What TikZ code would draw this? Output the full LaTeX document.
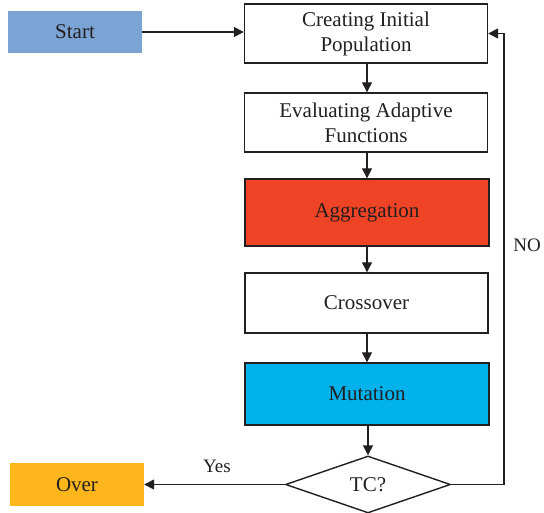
\documentclass[tikz,border=0pt]{standalone}
\usepackage{fontspec}
\setmainfont{Liberation Serif}
\usetikzlibrary{arrows.meta,shapes.geometric}
\definecolor{lineC}{HTML}{231F20}
\definecolor{startC}{HTML}{7BA4D5}
\definecolor{aggC}{HTML}{EE4324}
\definecolor{mutC}{HTML}{00B2EB}
\definecolor{overC}{HTML}{FDB61C}
\tikzset{
  box/.style={draw=lineC, line width=1.4pt, minimum width=243pt, minimum height=59pt, inner sep=0pt, align=center, font=\fontsize{21}{25}\selectfont, text=lineC},
  term/.style={minimum width=134pt, minimum height=42pt, inner sep=0pt, font=\fontsize{21}{25}\selectfont, text=lineC},
  conn/.style={draw=lineC, line width=1.4pt, -{Triangle[length=10pt,width=10pt]}},
  lbl/.style={font=\fontsize{19}{22}\selectfont, text=lineC, inner sep=0pt}
}
\begin{document}
\begin{tikzpicture}[x=1pt,y=-1pt]
\useasboundingbox (0,0) rectangle (544,513);
\node[term, fill=startC] (start) at (75,32) {Start};
\node[box] (create) at (366,33.5) {Creating Initial\\Population};
\node[box] (eval) at (366,122.5) {Evaluating Adaptive\\Functions};
\node[box, fill=aggC, minimum width=244pt, minimum height=67pt] (agg) at (367,212.5) {Aggregation};
\node[box, minimum height=60pt] (cross) at (366.5,303) {Crossover};
\node[box, fill=mutC, minimum width=244pt, minimum height=62pt] (mut) at (367,394) {Mutation};
\node[diamond, draw=lineC, line width=1.4pt, minimum width=165pt, minimum height=57pt, inner sep=0pt, font=\fontsize{21}{25}\selectfont, text=lineC] (tc) at (368,484.5) {TC?};
\node[term, fill=overC, minimum height=43pt] (over) at (77,484.5) {Over};
\coordinate (loop) at (504,484.5);
\draw[conn] (start.east) -- (start.east -| create.west);
\draw[conn] (create.south -| 367,0) -- (367,0 |- eval.north);
\draw[conn] (eval.south -| 367,0) -- (367,0 |- agg.north);
\draw[conn] (agg.south -| 367,0) -- (367,0 |- cross.north);
\draw[conn] (cross.south -| 367,0) -- (367,0 |- mut.north);
\draw[conn] (mut.south -| 368,0) -- (tc.north);
\draw[conn] (tc.west) -- (over.east);
\draw[conn] (tc.east) -- (loop) |- (create.east);
\node[lbl] (yes) at (217,466) {Yes};
\node[lbl] (no) at (527,245) {NO};
\end{tikzpicture}
\end{document}
